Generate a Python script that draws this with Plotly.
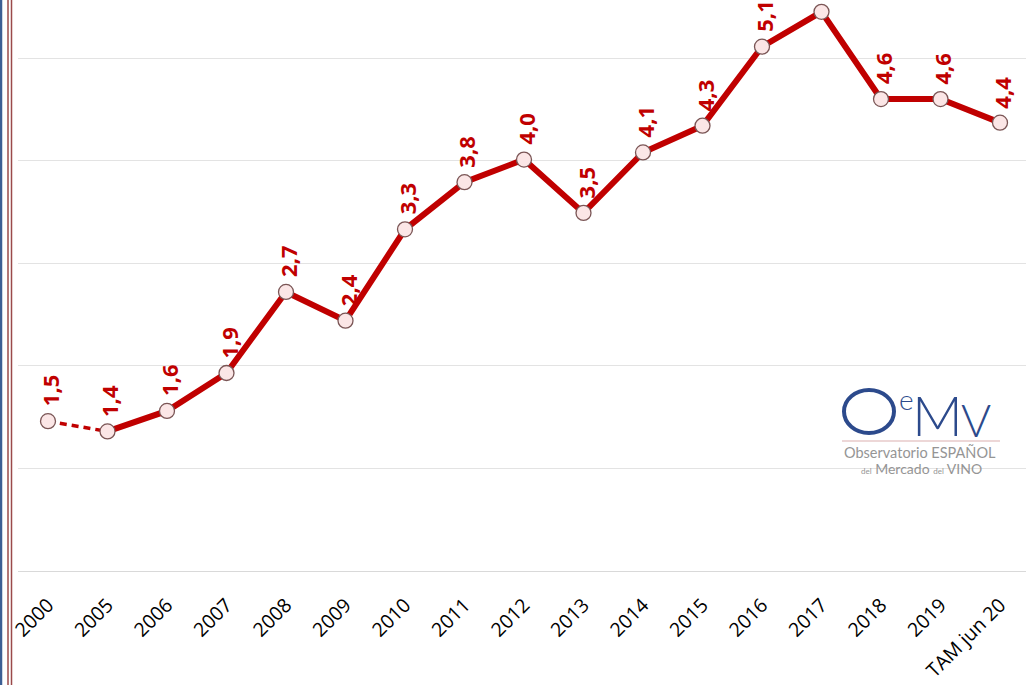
import plotly.graph_objects as go

categories = ["2000", "2005", "2006", "2007", "2008", "2009", "2010", "2011", "2012",
              "2013", "2014", "2015", "2016", "2017", "2018", "2019", "TAM jun 20"]
values = [1.46, 1.36, 1.56, 1.93, 2.72, 2.44, 3.33, 3.79, 4.01,
          3.49, 4.08, 4.34, 5.11, 5.45, 4.60, 4.60, 4.37]
show_label = [True] * 13 + [False] + [True] * 3

W, H = 1026, 685
L, R, T, B = 18, 0, 0, 114
PW, PH = W - L - R, H - T - B

def px(x):
    return (x - L) / PW

def py(y):
    return (H - B - y) / PH

xs = list(range(len(categories)))
RED = "#c00000"

fig = go.Figure()
# dashed segment (2000 -> 2005)
fig.add_trace(go.Scatter(x=xs[:2], y=values[:2], mode="lines",
                         line=dict(color=RED, width=3.5, dash="7px,5px"),
                         hoverinfo="skip", showlegend=False))
# solid segment
fig.add_trace(go.Scatter(x=xs[1:], y=values[1:], mode="lines",
                         line=dict(color=RED, width=6),
                         hoverinfo="skip", showlegend=False))
# markers
fig.add_trace(go.Scatter(x=xs, y=values, mode="markers",
                         marker=dict(size=15, color="#fbe6e6",
                                     line=dict(color="#7a5555", width=1.3)),
                         showlegend=False))

annotations = []
for i, (v, s) in enumerate(zip(values, show_label)):
    if not s:
        continue
    annotations.append(dict(x=xs[i], y=v, xref="x", yref="y",
                            text=f"{v:.1f}".replace(".", ","), showarrow=False,
                            textangle=-90, xanchor="center", yanchor="middle",
                            xshift=2, yshift=30,
                            font=dict(family="Open Sans", size=22, color=RED, weight="bold")))

# logo
BLUE = "#2c4a8c"
annotations += [
    dict(x=px(906), y=py(399), xref="paper", yref="paper", text="e", showarrow=False,
         xanchor="center", yanchor="middle",
         font=dict(family="Lato", size=28, color=BLUE, weight=300)),
    dict(x=px(937), y=py(414), xref="paper", yref="paper", text="M", showarrow=False,
         xanchor="center", yanchor="middle",
         font=dict(family="Lato", size=56, color=BLUE, weight=300)),
    dict(x=px(976), y=py(419), xref="paper", yref="paper", text="V", showarrow=False,
         xanchor="center", yanchor="middle",
         font=dict(family="Lato", size=46, color=BLUE, weight=300)),
    dict(x=px(920), y=py(452), xref="paper", yref="paper", text="Observatorio ESPAÑOL",
         showarrow=False, xanchor="center", yanchor="middle",
         font=dict(family="Lato", size=14.5, color="#959595")),
    dict(x=px(921), y=py(468), xref="paper", yref="paper",
         text="<span style='font-size:8px'>del</span> Mercado <span style='font-size:8px'>del</span> VINO",
         showarrow=False, xanchor="center", yanchor="middle",
         font=dict(family="Lato", size=14, color="#959595")),
]

shapes = [
    dict(type="circle", xref="paper", yref="paper", x0=px(844), x1=px(894),
         y0=py(390), y1=py(433), line=dict(color=BLUE, width=4)),
    dict(type="line", xref="paper", yref="paper", x0=px(842), x1=px(1000),
         y0=py(441), y1=py(441), line=dict(color="#dcb0b0", width=1.2)),
    dict(type="line", xref="paper", yref="paper", x0=px(1), x1=px(1),
         y0=py(0), y1=py(H), line=dict(color="#3d5f95", width=2.5)),
    dict(type="line", xref="paper", yref="paper", x0=px(8), x1=px(8),
         y0=py(0), y1=py(H), line=dict(color="#9a4a4a", width=1.5)),
    dict(type="line", xref="paper", yref="paper", x0=px(11.5), x1=px(11.5),
         y0=py(0), y1=py(H), line=dict(color="#9a4a4a", width=1.5)),
]

ppu = 59.5
fig.update_layout(
    width=W, height=H,
    margin=dict(l=L, r=R, t=T, b=B),
    paper_bgcolor="white", plot_bgcolor="white",
    annotations=annotations, shapes=shapes,
    xaxis=dict(range=[-30 / ppu, 16 + 26 / ppu], tickvals=xs, ticktext=categories,
               tickangle=-45, showgrid=False, zeroline=False, showline=False,
               ticks="outside", ticklen=14, tickcolor="rgba(0,0,0,0)",
               tickfont=dict(family="Open Sans", size=19.5, color="black")),
    yaxis=dict(range=[0, 571 / 102.6], dtick=1, showticklabels=False,
               showgrid=True, gridcolor="#e3e3e3", gridwidth=1,
               zeroline=True, zerolinecolor="#d9d9d9", zerolinewidth=1.2,
               showline=False, ticks=""),
)

fig.write_html("out.html", config={"displayModeBar": False},
               post_script="document.body.style.margin='0';document.body.style.overflow='hidden';")
